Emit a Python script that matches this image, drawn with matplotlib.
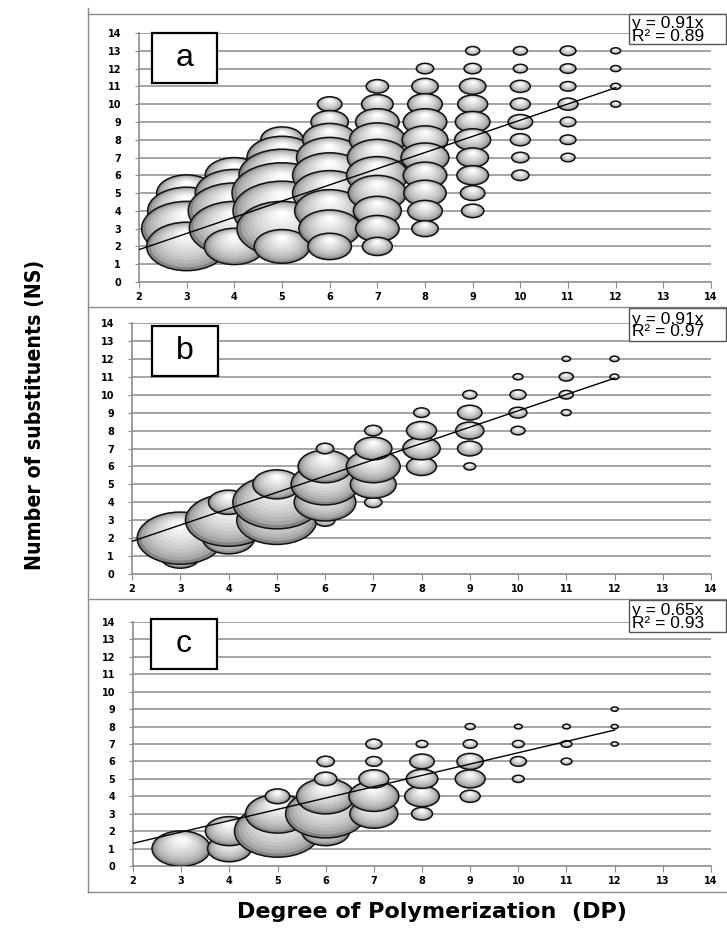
import numpy as np
import matplotlib
matplotlib.use('Agg')
from matplotlib import pyplot as plt
from matplotlib import font_manager
from matplotlib.patches import Ellipse, Rectangle
from matplotlib.lines import Line2D

W, H = 727, 933

# panel a : DP, NS and bubble size (relative abundance)
a_dp = [3, 3, 3, 3,
        4, 4, 4, 4, 4,
        5, 5, 5, 5, 5, 5, 5,
        6, 6, 6, 6, 6, 6, 6, 6, 6,
        7, 7, 7, 7, 7, 7, 7, 7, 7, 7,
        8, 8, 8, 8, 8, 8, 8, 8, 8, 8,
        9, 9, 9, 9, 9, 9, 9, 9, 9, 9,
        10, 10, 10, 10, 10, 10, 10, 10,
        11, 11, 11, 11, 11, 11, 11,
        12, 12, 12, 12]
a_ns = [2, 3, 4, 5,
        2, 3, 4, 5, 6,
        2, 3, 4, 5, 6, 7, 8,
        2, 3, 4, 5, 6, 7, 8, 9, 10,
        2, 3, 4, 5, 6, 7, 8, 9, 10, 11,
        3, 4, 5, 6, 7, 8, 9, 10, 11, 12,
        4, 5, 6, 7, 8, 9, 10, 11, 12, 13,
        6, 7, 8, 9, 10, 11, 12, 13,
        7, 8, 9, 10, 11, 12, 13,
        10, 11, 12, 13]
a_size = [64, 81, 61, 36,
          36, 81, 85, 61, 34,
          31, 81, 96, 100, 74, 49, 18,
          19, 38, 49, 55, 55, 44, 29, 14, 6,
          9, 19, 23, 34, 38, 36, 31, 19, 10, 5,
          7, 12, 18, 19, 23, 21, 19, 12, 7, 3,
          5, 6, 10, 10, 13, 12, 9, 7, 3, 2,
          3, 3, 4, 6, 4, 4, 2, 2,
          2, 2.5, 2.5, 4, 2.5, 2.5, 2.5,
          1, 1, 1, 1]

# panel b
b_dp = [3, 3,
        4, 4, 4,
        5, 5, 5,
        6, 6, 6, 6, 6,
        7, 7, 7, 7, 7,
        8, 8, 8, 8,
        9, 9, 9, 9, 9,
        10, 10, 10, 10,
        11, 11, 11, 11,
        12, 12]
b_ns = [1, 2,
        2, 3, 4,
        3, 4, 5,
        3, 4, 5, 6, 7,
        4, 5, 6, 7, 8,
        6, 7, 8, 9,
        6, 7, 8, 9, 10,
        8, 9, 10, 11,
        9, 10, 11, 12,
        11, 12]
b_size = [16, 74,
          27, 74, 16,
          64, 77, 23,
          4, 38, 46, 29, 3,
          3, 21, 29, 14, 3,
          9, 14, 9, 2.5,
          1.4, 6, 8, 6, 2,
          2, 3.2, 2.6, 1,
          1, 2, 2, 0.7,
          0.8, 0.8]

# panel c
c_dp = [3,
        4, 4,
        5, 5, 5,
        6, 6, 6, 6, 6,
        7, 7, 7, 7, 7,
        8, 8, 8, 8, 8,
        9, 9, 9, 9, 9,
        10, 10, 10, 10,
        11, 11, 11,
        12, 12, 12]
c_ns = [1,
        1, 2,
        2, 3, 4,
        2, 3, 4, 5, 6,
        3, 4, 5, 6, 7,
        3, 4, 5, 6, 7,
        4, 5, 6, 7, 8,
        5, 6, 7, 8,
        6, 7, 8,
        7, 8, 9]
c_size = [34,
          19, 23,
          74, 41, 6,
          23, 64, 34, 5, 3,
          23, 25, 9, 2.6, 2.6,
          4.4, 12, 10, 6, 1.4,
          4, 9, 7, 2, 1,
          1.4, 2.6, 1.4, 0.6,
          1.2, 1.2, 0.6,
          0.5, 0.5, 0.5]

slopes = [0.91, 0.91, 0.65]
r2s = [0.89, 0.97, 0.93]
letters = ['a', 'b', 'c']
xticks = list(range(2, 15))
yticks = list(range(0, 15))


def fx(px):
    return px / W


def fy(py):
    return 1 - py / H


def have_font(name):
    try:
        font_manager.findfont(name, fallback_to_default=False)
        return True
    except ValueError:
        return False


def draw_bubbles(ax, dp, ns, size, low_on_top):
    pos = ax.get_position()
    pxx = pos.width * W / 12.0
    pxy = pos.height * H / 14.0
    n = 10
    c0 = np.array([0.52, 0.52, 0.52])
    c1 = np.array([1.0, 1.0, 1.0])
    for x, y, s in zip(dp, ns, size):
        wpx = 10 * np.sqrt(s)
        hpx = wpx / 1.65
        w, h = wpx / pxx, hpx / pxy
        order = (14 - y) if low_on_top else y
        z = 2 + x + order / 20.0
        ax.add_patch(Ellipse((x, y), w, h, fc=c0, ec='none', zorder=z))
        for k in range(1, n + 1):
            f = 1 - 0.9 * k / n
            t = (k / n) ** 0.55
            col = c0 + (c1 - c0) * t
            ax.add_patch(Ellipse((x, y + (1 - f) * h * 0.3), w * f, h * f,
                                 fc=col, ec='none', zorder=z + k / 500.0))
        ax.add_patch(Ellipse((x, y), w, h, fill=False, ec='#111111', lw=1.1,
                             zorder=z + 0.03))


fig = plt.figure(figsize=(W / 100, H / 100), dpi=100)

# axes rectangles in pixels: left, right, top(y=14), bottom(y=0)
boxes = [(139, 711, 33, 282), (132, 711, 323, 574), (133, 711, 622, 866)]
letter_boxes = [(152, 217, 33, 83), (152, 218, 326, 376), (151, 217, 619, 669)]
eq_boxes = [(629, 726, 14, 44), (629, 726, 308, 341), (629, 726, 600, 632)]
data = [(a_dp, a_ns, a_size, True), (b_dp, b_ns, b_size, False),
        (c_dp, c_ns, c_size, False)]

for i in range(3):
    l, r, t, b = boxes[i]
    ax = fig.add_axes([fx(l), fy(b), (r - l) / W, (b - t) / H])
    ax.set_xlim(2, 14)
    ax.set_ylim(0, 14)
    ax.set_xticks(xticks)
    ax.set_yticks(yticks)
    for yv in yticks[1:]:
        ax.axhline(yv, color='#a4a4a4', lw=1.4, zorder=1)
    for sp in ['top', 'right']:
        ax.spines[sp].set_visible(False)
    for sp in ['left', 'bottom']:
        ax.spines[sp].set_color('#8c8c8c')
        ax.spines[sp].set_linewidth(1.2)
    ax.tick_params(axis='y', length=3, color='#8c8c8c', pad=10, labelsize=7)
    ax.tick_params(axis='x', length=4, color='#8c8c8c', pad=3, labelsize=7)
    for lab in ax.get_xticklabels() + ax.get_yticklabels():
        lab.set_fontweight('bold')
    dp, ns, size, low = data[i]
    draw_bubbles(ax, dp, ns, size, low)
    ax.plot([2, 12], [slopes[i] * 2, slopes[i] * 12], color='black', lw=1.0,
            zorder=50)

    # panel letter box
    bl, br, bt, bb = letter_boxes[i]
    fig.add_artist(Rectangle((fx(bl), fy(bb)), (br - bl) / W, (bb - bt) / H,
                             transform=fig.transFigure, fc='white', ec='black',
                             lw=1.6, zorder=60))
    fig.text(fx((bl + br) / 2), fy((bt + bb) / 2), letters[i], fontsize=23,
             family='Liberation Sans', ha='center', va='center', zorder=61)

    # trendline equation box
    el, er, et, eb = eq_boxes[i]
    fig.add_artist(Rectangle((fx(el), fy(eb)), (er - el) / W, (eb - et) / H,
                             transform=fig.transFigure, fc='white', ec='#555555',
                             lw=1.0, zorder=60))
    fig.text(fx(el + 3), fy((et + eb) / 2 + 1),
             'y = %.2fx\nR² = %.2f' % (slopes[i], r2s[i]), fontsize=12.5,
             family='Liberation Sans', ha='left', va='center',
             linespacing=0.8, zorder=61)

# outer frame lines
fr = dict(transform=fig.transFigure, color='#8a8a8a', lw=1.0)
fig.add_artist(Line2D([fx(88), fx(88)], [fy(8), fy(892)], **fr))
for py in [14, 307, 599, 892]:
    fig.add_artist(Line2D([fx(88), fx(727)], [fy(py), fy(py)], **fr))

if have_font('Liberation Sans Narrow'):
    yfam = 'Liberation Sans Narrow'
else:
    yfam = 'DejaVu Sans'
ylab = fig.text(fx(35), fy(415), 'Number of substituents (NS)', rotation=90,
                family=yfam, fontstretch='condensed', fontweight='bold',
                fontsize=19, ha='center', va='center')
fig.text(fx(432), fy(912), 'Degree of Polymerization  (DP)',
         fontweight='bold', fontsize=16, ha='center', va='center')

# fit the y label to its length in the reference (about 310 px)
fig.canvas.draw()
ext = ylab.get_window_extent()
ylab.set_fontsize(19 * 310.0 / ext.height)

fig.savefig('out.png', dpi=100)
